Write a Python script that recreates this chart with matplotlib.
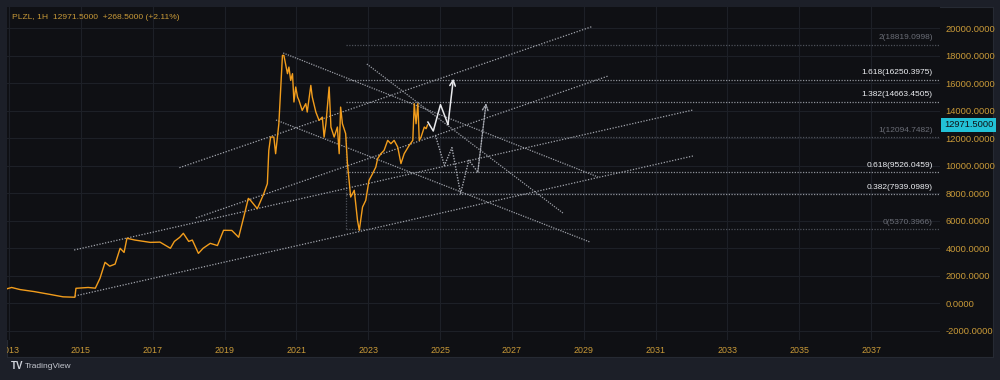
import matplotlib.pyplot as plt

plt.rcParams['axes.unicode_minus'] = False
plt.rcParams['font.family'] = ['Liberation Sans', 'DejaVu Sans']

# PLZL close as (decimal year, price)
price_years = [2012.93, 2013.07, 2013.3, 2013.7, 2014.13, 2014.5, 2014.83, 2014.86, 2015.2, 2015.4,
               2015.53, 2015.67, 2015.8, 2015.95, 2016.09, 2016.2, 2016.28, 2016.5, 2016.93, 2017.2,
               2017.49, 2017.6, 2017.75, 2017.85, 2018.0, 2018.1, 2018.27, 2018.4, 2018.6, 2018.8,
               2018.97, 2019.2, 2019.39, 2019.53, 2019.66, 2019.72, 2019.91, 2020.09, 2020.19, 2020.23,
               2020.28, 2020.37, 2020.42, 2020.51, 2020.61, 2020.65, 2020.75, 2020.79, 2020.84, 2020.89,
               2020.93, 2020.98, 2021.03, 2021.07, 2021.16, 2021.26, 2021.3, 2021.4, 2021.44, 2021.54,
               2021.63, 2021.72, 2021.77, 2021.82, 2021.91, 2021.96, 2022.05, 2022.14, 2022.19, 2022.23,
               2022.28, 2022.37, 2022.42, 2022.51, 2022.61, 2022.7, 2022.75, 2022.84, 2022.93, 2023.02,
               2023.12, 2023.21, 2023.26, 2023.35, 2023.44, 2023.54, 2023.63, 2023.72, 2023.82, 2023.91,
               2024.0, 2024.14, 2024.24, 2024.28, 2024.33, 2024.38, 2024.42, 2024.47, 2024.56, 2024.61,
               2024.65]
price_values = [1050, 1150, 1000, 850, 650, 470, 440, 1090, 1150, 1100,
                1820, 2980, 2700, 2850, 4000, 3700, 4730, 4600, 4430, 4450,
                4000, 4500, 4800, 5090, 4500, 4600, 3630, 4000, 4360, 4200,
                5310, 5300, 4800, 6250, 7630, 7490, 6880, 7970, 8700, 11120,
                12090, 12090, 10880, 13060, 18030, 18030, 16700, 17180, 16210, 16700,
                14640, 15730, 15000, 14760, 14030, 14520, 13910, 15850, 15000, 13910,
                13300, 13540, 12090, 13060, 15730, 12820, 12090, 12820, 10880, 14270,
                13060, 12340, 10160, 7730, 8220, 6030, 5310, 7000, 7490, 8940,
                9430, 9910, 10520, 10880, 11120, 11850, 11610, 11850, 11360, 10160,
                10880, 11490, 11850, 14520, 13060, 14520, 11850, 12090, 12820, 12700,
                12971.5]

# projected paths after the last bar
bull_years = [2024.66, 2024.81, 2025.01, 2025.22, 2025.37]
bull_values = [13180, 12530, 14450, 13010, 16340]
alt_years = [2024.87, 2025.12, 2025.33, 2025.57, 2025.80, 2026.05, 2026.28]
alt_values = [12210, 10030, 11320, 7980, 10400, 9550, 14560]

# trend lines (year0, price0, year1, price1)
up_lines = [(2017.74, 9862, 2029.22, 20116),
            (2018.20, 6204, 2029.68, 16531),
            (2014.81, 3876, 2032.04, 14058),
            (2014.83, 531, 2032.04, 10713)]
down_lines = [(2020.63, 18204, 2029.40, 9185),
              (2022.96, 17404, 2028.42, 6567),
              (2020.43, 13331, 2029.17, 4458)]

# fibonacci extension
fib_ratios = ['2', '1.618', '1.382', '1', '0.618', '0.382', '0']
fib_prices = [18819.0998, 16250.3975, 14663.4505, 12094.7482, 9526.0459, 7939.0989, 5370.3966]
fib_start = 2022.37
fib_end = 2038.92

year_ticks = list(range(2013, 2039, 2))
price_ticks = list(range(-2000, 20001, 2000))

last_price = 12971.5
gold = '#c99a38'
frame_bg = '#1c1f28'
plot_bg = '#0f1014'
grid_col = '#1d2027'


def draw_chart():
    fig = plt.figure(figsize=(10, 3.8), dpi=100, facecolor=frame_bg)

    # dark panel behind plot, price scale and time scale
    panel = fig.add_axes([0.007, 23 / 380, 0.986, 350 / 380])
    panel.set_facecolor(plot_bg)
    panel.set_xticks([])
    panel.set_yticks([])
    for s in panel.spines.values():
        s.set_color('#262a33')
        s.set_linewidth(0.8)

    ax = fig.add_axes([0.007, 40 / 380, 0.933, 333 / 380])
    ax.set_facecolor(plot_bg)
    ax.set_xlim(2012.94, 2038.92)
    ax.set_ylim(-2670, 21550)

    # grid
    for y in year_ticks:
        ax.axvline(y, color=grid_col, lw=0.8, zorder=0)
    for p in price_ticks:
        ax.axhline(p, color=grid_col, lw=0.8, zorder=0)

    # fib levels
    for ratio, p in zip(fib_ratios, fib_prices):
        main = ratio not in ('0', '1', '2')
        col = '#8e9199' if main else '#4e515a'
        ax.plot([fib_start, fib_end], [p, p], color=col, lw=0.9, ls=(0, (1, 1.2)), zorder=1)
        ax.annotate(f'{ratio}({p:.4f})', (fib_end - 0.2, p), xytext=(0, 2.5), textcoords='offset points',
                    ha='right', va='bottom', fontsize=6,
                    color='#eceef2' if main else '#6a6d76')
    ax.plot([fib_start, fib_start], [fib_prices[3], fib_prices[6]], color='#4e515a', lw=0.9,
            ls=(0, (1, 1.2)), zorder=1)

    # trend lines
    for x0, y0, x1, y1 in up_lines:
        ax.plot([x0, x1], [y0, y1], color='#a3a6ae', lw=0.9, ls=(0, (1, 1.3)), zorder=2)
    for x0, y0, x1, y1 in down_lines:
        ax.plot([x0, x1], [y0, y1], color='#9a9da5', lw=0.9, ls=(0, (1, 1)), zorder=2)

    # price
    ax.plot(price_years, price_values, color='#f29d1c', lw=1.0, zorder=4)

    # projections
    ax.plot(bull_years[:-1], bull_values[:-1], color='#e8e9ec', lw=1.1, zorder=5)
    ax.annotate('', xy=(bull_years[-1], bull_values[-1]), xytext=(bull_years[-2], bull_values[-2]),
                arrowprops=dict(arrowstyle='->', color='#e8e9ec', lw=1.1, shrinkA=0, shrinkB=0), zorder=5)
    ax.plot(alt_years[:-1], alt_values[:-1], color='#a8abb3', lw=1.0, ls=(0, (1, 1)), zorder=5)
    ax.annotate('', xy=(alt_years[-1], alt_values[-1]), xytext=(alt_years[-2], alt_values[-2]),
                arrowprops=dict(arrowstyle='->', color='#a8abb3', lw=1.0, ls=(0, (1, 1)),
                                shrinkA=0, shrinkB=0), zorder=5)

    # axes / ticks
    ax.yaxis.tick_right()
    ax.set_yticks(price_ticks)
    ax.set_yticklabels([f'{p:.4f}' for p in price_ticks])
    ax.set_xticks(year_ticks)
    ax.set_xticklabels([str(y) for y in year_ticks])
    ax.tick_params(axis='both', length=0, labelcolor=gold)
    ax.tick_params(axis='y', pad=4, labelsize=6.7)
    ax.tick_params(axis='x', pad=4, labelsize=6.4)
    for s in ax.spines.values():
        s.set_visible(False)
    # first year label is cut by the panel edge, like on the screenshot
    for lbl in ax.get_xticklabels():
        lbl.set_clip_on(True)
        lbl.set_clip_box(panel.bbox)

    # last price tag
    ax.annotate(f'{last_price:.4f}', xy=(1.0, last_price), xycoords=('axes fraction', 'data'),
                xytext=(3, 0), textcoords='offset points', ha='left', va='center', fontsize=6.7,
                color='#0f1014',
                bbox=dict(boxstyle='square,pad=0.3', fc='#22c1d6', ec='none'))

    # header + logo
    fig.text(0.012, 0.955, 'PLZL, 1H  12971.5000  +268.5000 (+2.11%)', color=gold, fontsize=6.1,
             va='center')
    fig.text(0.011, 0.036, 'TV', color='#d1d4dc', fontsize=7, fontweight='bold', va='center')
    fig.text(0.025, 0.036, 'TradingView', color='#c4c7cf', fontsize=6, va='center')

    fig.savefig('out.png', dpi=100, facecolor=frame_bg)


def main():
    draw_chart()


if __name__ == '__main__':
    main()
